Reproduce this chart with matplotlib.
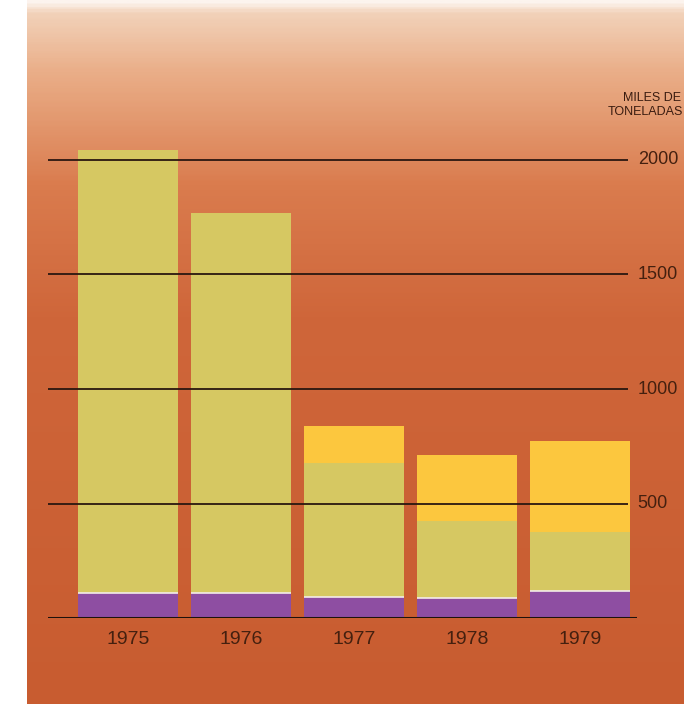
import numpy as np
import matplotlib.pyplot as plt
from matplotlib.colors import LinearSegmentedColormap

# datos (miles de toneladas)
years = ["1975", "1976", "1977", "1978", "1979"]
purple_vals = [110, 108, 92, 87, 118]
olive_vals = [1935, 1662, 585, 337, 258]
yellow_vals = [0, 0, 161, 288, 397]
grid_vals = [500, 1000, 1500, 2000]
grid_labels = ["500", "1000", "1500", "2000"]

W, H = 684, 704
fig = plt.figure(figsize=(W / 100, H / 100), dpi=100)
fig.patch.set_facecolor("white")

# fondo degradado
bg = fig.add_axes([27 / W, 0, 1 - 27 / W, 1])
bg_cmap = LinearSegmentedColormap.from_list(
    "fondo",
    [(0.0, "#fcf4ee"), (0.015, "#f2d2ba"), (0.1, "#eaae88"),
     (0.26, "#da7c4e"), (0.45, "#cf663a"), (1.0, "#c85c30")],
)
bg.imshow(np.linspace(0, 1, 400).reshape(-1, 1), aspect="auto", cmap=bg_cmap,
          extent=[0, 1, 0, 1], origin="upper")
bg.set_axis_off()

# grafico principal
x = np.arange(len(years))
ax = fig.add_axes([48 / W, (H - 618) / H, (637 - 48) / W, 2200 * 0.229 / H])
ax.set_xlim(-0.708, 4.504)
ax.set_ylim(0, 2200)
ax.patch.set_alpha(0)
for s in ax.spines.values():
    s.set_visible(False)
ax.set_xticks([])
ax.set_yticks([])

purple = np.array(purple_vals)
olive = np.array(olive_vals)
yellow = np.array(yellow_vals)
bw = 0.885
ax.bar(x, purple, width=bw, color="#8e4ea2", zorder=2)
ax.bar(x, olive, width=bw, bottom=purple, color="#d6c862", zorder=2)
ax.bar(x, yellow, width=bw, bottom=purple + olive, color="#fcc73e", zorder=2)
# linea blanca fina entre morado y verde
ax.hlines(purple, x - bw / 2, x + bw / 2, color="#f4ece8", lw=1.2, zorder=3)

txt = "#44200f"
ax.hlines(grid_vals, -0.708, 4.42, color="#2a1710", lw=1.3, zorder=4)
ax.axhline(0, color="#1e120c", lw=2.2, zorder=5)
for v, lab in zip(grid_vals, grid_labels):
    ax.text(4.51, v, lab, ha="left", va="center", fontsize=13,
            family="Liberation Sans", color=txt, clip_on=False)

for xi, yr in zip(x, years):
    ax.text(xi, -95, yr, ha="center", va="center", fontsize=14,
            family="Liberation Sans", color=txt, clip_on=False)

fig.text(681 / W, 1 - 98 / H, "MILES DE", ha="right", va="center",
         fontsize=9, family="Liberation Sans", color="#3a1c10")
fig.text(683 / W, 1 - 112 / H, "TONELADAS", ha="right", va="center",
         fontsize=9, family="Liberation Sans", color="#3a1c10")

fig.savefig("out.png", dpi=100)
